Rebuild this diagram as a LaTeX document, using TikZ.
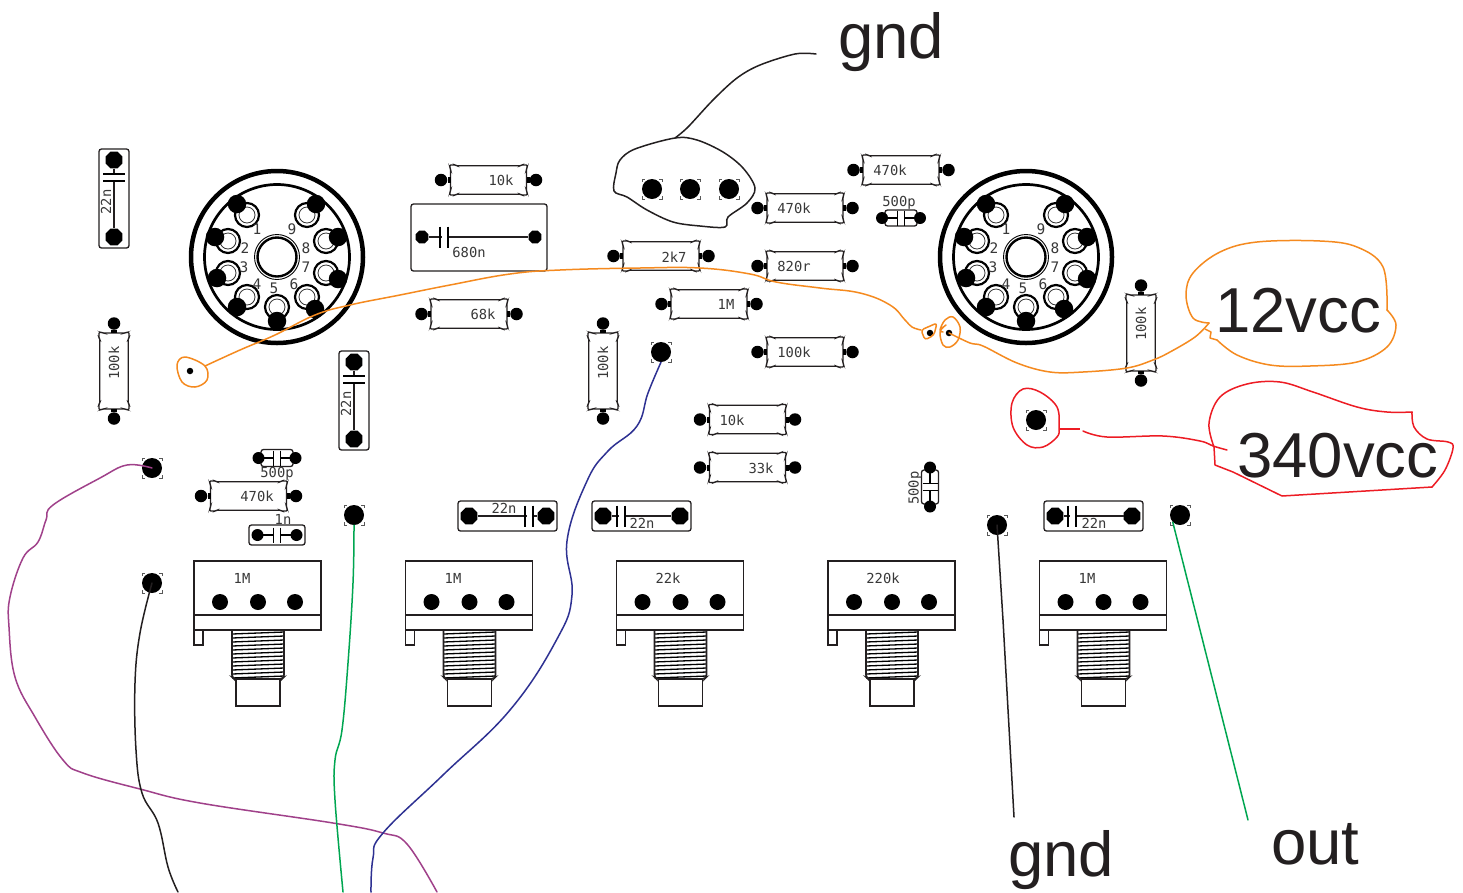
\documentclass[tikz,border=0pt]{standalone}
\usepackage{fontspec}
\usetikzlibrary{shapes.geometric}
\setmainfont{Liberation Sans}
\newfontfamily\pcbmono{DejaVu Sans Mono}
\definecolor{ink}{HTML}{231F20}
\definecolor{wireorange}{HTML}{F58A1F}
\definecolor{wirered}{HTML}{ED1C24}
\definecolor{wirepurple}{HTML}{A0418A}
\definecolor{wiregreen}{HTML}{00A651}
\definecolor{wirenavy}{HTML}{2E3192}
\tikzset{
  padround/.style={circle,fill=black,inner sep=0pt,minimum size=12.5pt},
  padsmall/.style={circle,fill=black,inner sep=0pt,minimum size=12pt},
  padocta/.style={regular polygon,regular polygon sides=8,fill=black,inner sep=0pt,minimum size=18pt},
  padsquare/.style={circle,fill=black,inner sep=0pt,minimum size=20pt},
  potpad/.style={circle,fill=black,inner sep=0pt,minimum size=16pt},
  tinydot/.style={circle,fill=black,inner sep=0pt,minimum size=6.5pt},
  pcbtext/.style={font=\pcbmono\fontsize{13.8}{14}\selectfont,text=black!78,inner sep=0pt},
  sockettext/.style={font=\pcbmono\fontsize{14.5}{15}\selectfont,text=black!78,inner sep=0pt},
  bigtext/.style={font=\fontsize{63.5}{64}\selectfont,text=ink,inner sep=0pt,anchor=base west},
  bodyline/.style={draw=ink,line width=1.3pt,fill=white},
  plate/.style={draw=black,line width=2.7pt},
  thinline/.style={draw=ink,line width=1.2pt},
  cornermark/.style={draw=black!65,line width=.9pt},
  pot/.style={draw=ink,line width=1.7pt},
  wire/.style={line width=1.5pt,line cap=round,line join=round},
}
% resistor body, centred at the origin of the current scope
\newcommand\DrResBody{%
  \draw[bodyline,rounded corners=.8pt] (-38.5,-15) -- (-33,-15) -- (-32,-14.2) -- (32,-14.2) -- (33,-15) -- (38.5,-15)
    -- (38.5,-12) -- (38,-11) -- (38,11) -- (38.5,12) -- (38.5,15) -- (33,15) -- (32,14.2) -- (-32,14.2) -- (-33,15) -- (-38.5,15)
    -- (-38.5,12) -- (-38,11) -- (-38,-11) -- (-38.5,-12) -- cycle;
  \fill[black] (-41,-3) rectangle (-38,3);
  \fill[black] (38,-3) rectangle (41,3);
}
% \DrRes{name}{x}{y}{angle}{label}{label x}{label y}
\newcommand\DrRes[7]{%
  \begin{scope}[shift={(#2,#3)},rotate=#4]
    \DrResBody
    \node[padround] (#1-a) at (-47.5,0) {};
    \node[padround] (#1-b) at (47.5,0) {};
  \end{scope}
  \node[pcbtext,rotate=#4] (#1-l) at (#6,#7) {#5};
}
% \DrCapH{name}{box corner}{box corner}{pad a x}{pad b x}{y}{plate x}{label pos}{label}
\newcommand\DrCapH[9]{%
  \draw[bodyline,rounded corners=2.5pt] (#2) rectangle (#3);
  \node[padocta] (#1-a) at (#4,#6) {};
  \node[padocta] (#1-b) at (#5,#6) {};
  \draw[thinline] (#1-a) -- (#1-b);
  \fill[white] (#7+1.5,#6-10) rectangle (#7+6.5,#6+10);
  \draw[plate] (#7,#6-10.5) -- (#7,#6+10.5);
  \draw[plate] (#7+8,#6-10.5) -- (#7+8,#6+10.5);
  \node[pcbtext] (#1-l) at (#8) {#9};
}
% \DrCapV{name}{x}{top y}{label}
\newcommand\DrCapV[4]{%
  \draw[bodyline,rounded corners=2.5pt] (#2-15,#3) rectangle (#2+15,#3+99);
  \node[padocta] (#1-a) at (#2,#3+11) {};
  \node[padocta] (#1-b) at (#2,#3+88) {};
  \draw[thinline] (#1-a) -- (#1-b);
  \fill[white] (#2-12,#3+26) rectangle (#2+12,#3+31);
  \draw[plate] (#2-11,#3+25) -- (#2+11,#3+25);
  \draw[plate] (#2-11,#3+32) -- (#2+11,#3+32);
  \node[pcbtext,rotate=90] (#1-l) at (#2-8,#3+53) {#4};
}
% \DrCapS{name}{x}{y}{half w}{half h}{pad distance}{angle}
\newcommand\DrCapS[7]{%
  \begin{scope}[shift={(#2,#3)},rotate=#7]
    \draw[bodyline,rounded corners=2.5pt] (-#4,-#5) rectangle (#4,#5);
    \node[padsmall] (#1-a) at (-#6,0) {};
    \node[padsmall] (#1-b) at (#6,0) {};
    \draw[draw=black,line width=1.2pt] (-3.2,-7.5) -- (-3.2,7.5) (3.2,-7.5) -- (3.2,7.5);
    \draw[draw=black,line width=1.2pt] (-#6,0) -- (-3.2,0) (3.2,0) -- (#6,0);
  \end{scope}
}
% \DrSq{name}{x}{y}
\newcommand\DrSq[3]{%
  \draw[cornermark] (#2-10,#3-7) -- (#2-10,#3-10) -- (#2-7,#3-10)
    (#2+7,#3-10) -- (#2+10,#3-10) -- (#2+10,#3-7)
    (#2+10,#3+7) -- (#2+10,#3+10) -- (#2+7,#3+10)
    (#2-7,#3+10) -- (#2-10,#3+10) -- (#2-10,#3+7);
  \node[padsquare] (#1) at (#2,#3) {};
}
% \DrPot{name}{left x}{label}{label x}
\newcommand\DrPot[4]{%
  \begin{scope}[shift={(#2,0)}]
    \draw[pot] (0,561) rectangle (127,630);
    \draw[pot] (0,615) -- (127,615);
    \draw[pot] (0,630) rectangle (9,645);
    \foreach \ty in {634,638,...,678} {\draw[draw=black,line width=1.3pt] (38,\ty) -- (90,\ty-2);}
    \draw[pot,rounded corners=2pt] (38,630) -- (38,677) -- (40,679) -- (88,679) -- (90,677) -- (90,630);
    \draw[pot] (42,679) rectangle (86,706);
    \node[potpad] (#1-a) at (26,602) {};
    \node[potpad] (#1-b) at (64,602) {};
    \node[potpad] (#1-c) at (101,602) {};
  \end{scope}
  \node[pcbtext] (#1-l) at (#4,578) {#3};
}
% \DrValve{name}{cx}
\newcommand\DrValve[2]{%
  \begin{scope}[shift={(#2,257)}]
    \draw[draw=black,line width=4.5pt] (0,0) circle[radius=86];
    \draw[draw=black,line width=2.7pt] (0,0) circle[radius=72.5];
    \draw[draw=black,line width=2.4pt] (0,0) circle[radius=19.5];
    \draw[draw=black,line width=.9pt] (0,0) circle[radius=22.5];
    \foreach \nn/\sx/\sy/\px/\py/\lx/\ly in {
      1/-30/-42/-40/-53/-20/-28,
      2/-49/-16/-62/-20/-32/-9,
      3/-49/16/-60/21/-33/10,
      4/-30/40/-40/50/-20/27,
      5/0/50/0/64/-3/31,
      6/30/40/38/52/17/27,
      7/49/16/61/22/29/10,
      8/49/-16/61/-20/29/-9,
      9/30/-42/39/-53/15/-28} {
      \draw[draw=black,line width=2.2pt,fill=white] (\sx,\sy) circle[radius=12];
      \draw[draw=black!80,line width=.8pt] (\sx,\sy) circle[radius=8];
      \node[sockettext] (#1-l\nn) at (\lx,\ly) {\nn};
      \node[circle,fill=black,inner sep=0pt,minimum size=18.5pt] (#1-\nn) at (\px,\py) {};
    }
  \end{scope}
}
\begin{document}
\begin{tikzpicture}[x=1pt,y=-1pt]
\useasboundingbox (0,0) rectangle (1463,892);
\fill[white] (0,0) rectangle (1463,892);

% valve sockets
\DrValve{va}{277}
\DrValve{vb}{1026}

% resistors
\DrRes{r1}{488.5}{180}{0}{10k}{501}{180}
\DrRes{r2}{469}{314}{0}{68k}{483}{314}
\DrRes{r3}{661}{256}{0}{2k7}{674}{257}
\DrRes{r4}{709}{304}{0}{1M}{726}{304}
\DrRes{r5}{805}{208}{0}{470k}{794}{208}
\DrRes{r6}{805}{266}{0}{820r}{794}{266}
\DrRes{r7}{805}{352}{0}{100k}{794}{352}
\DrRes{r8}{901}{170}{0}{470k}{890}{170}
\DrRes{r9}{747.5}{419.5}{0}{10k}{732}{420}
\DrRes{r10}{747.5}{467.5}{0}{33k}{761}{468}
\DrRes{r11}{248.5}{496}{0}{470k}{257}{496}
\DrRes{r12}{114}{371}{90}{100k}{114}{363}
\DrRes{r13}{603}{371}{90}{100k}{603}{363}
\DrRes{r14}{1141}{333}{90}{100k}{1141}{324}

% large capacitors
\DrCapV{c1}{114}{149}{22n}
\DrCapV{c2}{354}{351}{22n}
\begin{scope}[padocta/.append style={minimum size=14pt}]
\DrCapH{c3}{411,204}{547,271}{422}{535}{237}{440}{469,252}{680n}
\end{scope}
\DrCapH{c4}{458,501}{557,531}{469}{546}{516}{525}{504,508}{22n}
\DrCapH{c5}{592,501}{691,531}{603}{680}{516}{617}{642,523}{22n}
\DrCapH{c6}{1044,501}{1143,531}{1055}{1132}{516}{1068}{1094,523}{22n}

% small capacitors
\DrCapS{c7}{277}{458}{16}{8.5}{18.5}{0}
\node[pcbtext] (c7-l) at (277,474) {500p};
\DrCapS{c8}{277}{535}{28}{10}{19.5}{0}
\node[pcbtext] (c8-l) at (283,519) {1n};
\DrCapS{c9}{901}{218}{16}{8}{19}{0}
\node[pcbtext] (c9-l) at (899,203) {500p};
\DrCapS{c10}{930}{487}{17}{8.5}{19.5}{90}
\node[pcbtext,rotate=90] (c10-l) at (915,488) {500p};

% square pads
\DrSq{g1}{652}{189}
\DrSq{g2}{690}{189}
\DrSq{g3}{729}{189}
\DrSq{s1}{152}{468}
\DrSq{s2}{152}{583}
\DrSq{s3}{354}{515}
\DrSq{s4}{661}{352}
\DrSq{s5}{1036}{420}
\DrSq{s6}{997}{525}
\DrSq{s7}{1180}{515}

% potentiometers
\DrPot{p1}{194}{1M}{242}
\DrPot{p2}{405.5}{1M}{453}
\DrPot{p3}{616.5}{22k}{668}
\DrPot{p4}{828}{220k}{883}
\DrPot{p5}{1039.5}{1M}{1087}

% free ends
\node[tinydot] (d1) at (190,371) {};
\node[tinydot] (d2) at (930,333) {};
\node[tinydot] (d3) at (949,333) {};
\coordinate (eb1) at (178,892);
\coordinate (eg1) at (343,892);
\coordinate (en1) at (371,892);
\coordinate (ep1) at (437,892);
\coordinate (eb2) at (1014,817);
\coordinate (eg2) at (1248,820);
\coordinate (tg) at (816,54);

% big labels
\node[bigtext] (tgnd) at (838,58) {gnd};
\node[bigtext] (t12) at (1215,332) {12vcc};
\node[bigtext] (t340) at (1237,477) {340vcc};
\node[bigtext] (tgnd2) at (1008,876) {gnd};
\node[bigtext] (tout) at (1271,864) {out};

% ground outline and leader
\draw[wire,ink] plot[smooth cycle,tension=.55] coordinates {(675,138) (635,149) (620,160) (616,173) (614,191) (627,197) (647,210) (673,222) (700,226) (725,227) (728,217) (747,203) (755,188) (743,168) (723,152) (697,140)};
\draw[wire,ink] plot[smooth,tension=.55] coordinates {(675,138) (688,127) (713,100) (737,78) (760,65) (795,54) (tg)};

% 12 V wiring
\draw[wire,wireorange] plot[smooth cycle,tension=.6] coordinates {(205,366) (207,380) (195,387) (182,382) (177,365) (185,357)};
\draw[wire,wireorange] plot[smooth,tension=.7] coordinates {(205,366) (240,350) (275,335) (315,315) (350,305) (400,295) (450,285) (510,274) (560,270) (640,268) (700,268) (750,274) (776,282) (820,288) (860,293) (890,305) (905,320) (912,327) (921,330)};
\draw[wire,wireorange,rounded corners=3pt] (921,330) -- (937,323) -- (934,335) -- (925,340) -- cycle;
\draw[wire,wireorange] plot[smooth,tension=.6] coordinates {(946,325) (940,332) (943,345) (950,347) (958,340) (960,327) (953,317) (945,320) (940,330) (943,332)};
\draw[wire,wireorange] plot[smooth,tension=.6] coordinates {(d3) (970,343) (983,346) (1017,363) (1050,372) (1083,372) (1127,368) (1153,360) (1170,352) (1195,337) (1209,323)};
\draw[wire,wireorange] plot[smooth,tension=.6] coordinates {(1209,323) (1193,318) (1186,295) (1193,273) (1220,252) (1257,242) (1320,241) (1357,247) (1383,267) (1387,310)};
\draw[wire,wireorange] plot[smooth,tension=.6] coordinates {(1387,310) (1396,325) (1387,347) (1357,362) (1310,366) (1270,365) (1237,355) (1217,340)};
\draw[wire,wireorange] (1217,340) -- (1210,338) -- (1211,332) -- (1205,329);

% 340 V wiring
\draw[wire,wirered] plot[smooth cycle,tension=.6] coordinates {(1059,428) (1057,407) (1040,392) (1023,389) (1012,403) (1013,427) (1027,445) (1043,447) (1057,437)};
\draw[line width=2pt,wirered] (1060,429) -- (1080,429);
\draw[wire,wirered] plot[smooth,tension=.6] coordinates {(1083,431) (1107,437) (1163,436) (1200,441) (1213,446) (1227,450)};
\draw[wire,wirered] plot[smooth,tension=.6] coordinates {(1214,447) (1209,423) (1220,397) (1247,384) (1280,382) (1313,392) (1357,407) (1387,412) (1412,412)};
\draw[wire,wirered] plot[smooth,tension=.6] coordinates {(1412,412) (1414,427) (1427,439) (1448,442) (1453,448) (1445,470) (1432,487)};
\draw[wire,wirered] (1432,487) -- (1282,496) -- (1233,472) -- (1215,465) -- (1214,447);

% long wires
\draw[wire,wirepurple] plot[smooth,tension=.65] coordinates {(s1.center) (127,465) (100,478) (53,505) (46,520) (38,542) (23,558) (10,597) (9,627) (15,677) (35,717) (63,760) (83,773) (140,789) (200,803) (333,823) (383,833) (407,844) (ep1)};
\draw[wire,ink] plot[smooth,tension=.65] coordinates {(s2.center) (140,633) (135,683) (136,750) (142,793) (158,823) (168,867) (eb1)};
\draw[wire,wiregreen] plot[smooth,tension=.65] coordinates {(s3.south) (353,583) (348,663) (342,730) (335,760) (335,800) (eg1)};
\draw[wire,wirenavy] plot[smooth,tension=.7] coordinates {(s4.south) (648,393) (637,426) (608,451) (587,481) (567,541) (572,595) (557,639) (510,710) (443,775) (383,833) (373,858) (en1)};
\draw[wire,ink] (s6.center) -- (1003,620) -- (eb2);
\draw[wire,wiregreen] (s7.south west) -- (eg2);
\end{tikzpicture}
\end{document}
